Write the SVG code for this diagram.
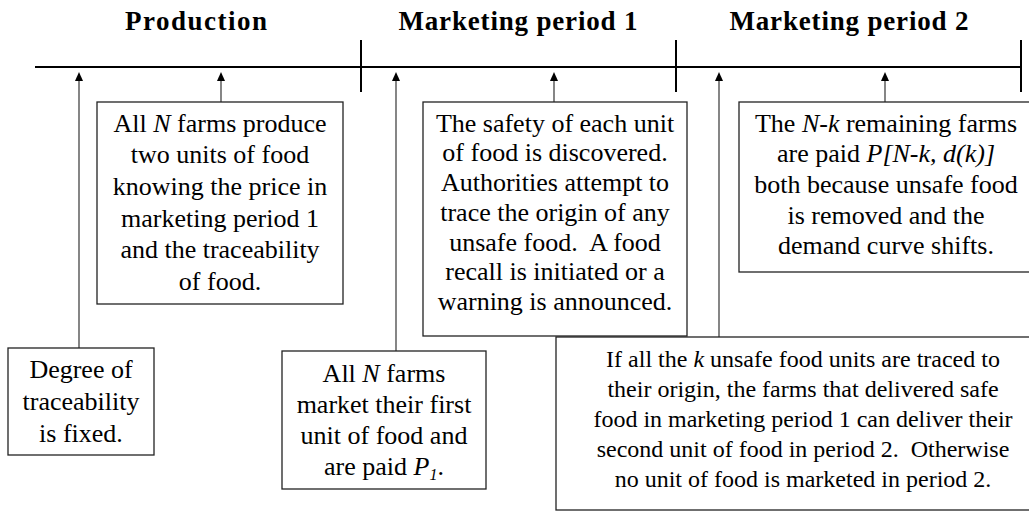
<svg xmlns="http://www.w3.org/2000/svg" width="1029" height="519" viewBox="0 0 1029 519">
<style>
.t{font-size:26px;fill:#000;text-anchor:middle}
.s{font-size:24px}
.h{font-size:27px;font-weight:bold;fill:#000;text-anchor:middle}
.i{font-style:italic}
.box{fill:#fff;stroke:#222;stroke-width:1.3}
.tl{stroke:#000;stroke-width:2;fill:none}
.ar{stroke:#444;stroke-width:1.3;fill:none;marker-end:url(#ah)}
</style>
<defs>
<marker id="ah" markerUnits="userSpaceOnUse" markerWidth="10" markerHeight="10" refX="4" refY="0" orient="auto" viewBox="-1 -5 10 10" overflow="visible">
<path d="M0,-4 L9,0 L0,4 Z" fill="#000"/>
</marker>
</defs>
<g id="titles" font-family="Liberation Serif, DejaVu Serif, serif">
<text class="h" x="196" y="30" textLength="142">Production</text>
<text class="h" x="518" y="30" textLength="239">Marketing period 1</text>
<text class="h" x="849" y="30" textLength="239">Marketing period 2</text>
</g>
<g id="timeline">
<line class="tl" x1="35" y1="67" x2="1021" y2="67"/>
<line class="tl" x1="361" y1="40" x2="361" y2="92"/>
<line class="tl" x1="676" y1="40" x2="676" y2="92"/>
<line class="tl" x1="1021" y1="40" x2="1021" y2="92"/>
</g>
<g id="connectors">
<line class="ar" x1="79" y1="348" x2="79" y2="77"/>
<line class="ar" x1="221" y1="102" x2="221" y2="77"/>
<line class="ar" x1="396" y1="351" x2="396" y2="77"/>
<line class="ar" x1="554" y1="102" x2="554" y2="77"/>
<line class="ar" x1="719" y1="337" x2="719" y2="77"/>
<line class="ar" x1="885" y1="102" x2="885" y2="77"/>
</g>
<g id="n-produce" font-family="Liberation Serif">
<rect class="box" x="97" y="102" width="246" height="202"/>
<text class="t" x="220" y="131.7"><tspan>All </tspan><tspan class="i">N</tspan><tspan> farms produce</tspan></text>
<text class="t" x="220" y="163.3">two units of food</text>
<text class="t" x="220" y="195">knowing the price in</text>
<text class="t" x="220" y="226.7">marketing period 1</text>
<text class="t" x="220" y="258.3">and the traceability</text>
<text class="t" x="220" y="290">of food.</text>
</g>
<g id="n-safety" font-family="Times New Roman">
<rect class="box" x="423" y="102" width="264" height="234"/>
<text class="t" x="555" y="131.7">The safety of each unit</text>
<text class="t" x="555" y="161.4">of food is discovered.</text>
<text class="t" x="555" y="191.1">Authorities attempt to</text>
<text class="t" x="555" y="220.8">trace the origin of any</text>
<text class="t" x="555" y="250.5" xml:space="preserve">unsafe food.  A food</text>
<text class="t" x="555" y="280.2">recall is initiated or a</text>
<text class="t" x="555" y="310">warning is announced.</text>
</g>
<g id="n-remaining" font-family="Liberation Serif">
<rect class="box" x="739" y="102" width="295" height="170"/>
<text class="t" x="886" y="131.7"><tspan>The </tspan><tspan class="i">N-k</tspan><tspan> remaining farms</tspan></text>
<text class="t" x="886" y="162.3"><tspan>are paid </tspan><tspan class="i">P[N-k, d(k)]</tspan></text>
<text class="t" x="886" y="192.9">both because unsafe food</text>
<text class="t" x="886" y="223.5">is removed and the</text>
<text class="t" x="886" y="254">demand curve shifts.</text>
</g>
<g id="n-degree" font-family="Times New Roman">
<rect class="box" x="8" y="348" width="146" height="107"/>
<text class="t" x="81" y="378">Degree of</text>
<text class="t" x="81" y="410">traceability</text>
<text class="t" x="81" y="441.7">is fixed.</text>
</g>
<g id="n-market" font-family="serif">
<rect class="box" x="282" y="351" width="204" height="138"/>
<text class="t" x="384" y="381.7"><tspan>All </tspan><tspan class="i">N</tspan><tspan> farms</tspan></text>
<text class="t" x="384" y="412.7">market their first</text>
<text class="t" x="384" y="443.7">unit of food and</text>
<text class="t" x="384" y="474.7"><tspan>are paid </tspan><tspan class="i">P</tspan><tspan class="i" font-size="16" dy="5">1</tspan><tspan dy="-5">.</tspan></text>
</g>
<g id="n-traced" font-family="Liberation Serif">
<rect class="box" x="556" y="337" width="494" height="173"/>
<text class="t s" x="803" y="366.7"><tspan>If all the </tspan><tspan class="i">k</tspan><tspan> unsafe food units are traced to</tspan></text>
<text class="t s" x="803" y="396.7">their origin, the farms that delivered safe</text>
<text class="t s" x="803" y="426.7">food in marketing period 1 can deliver their</text>
<text class="t s" x="803" y="456.7" xml:space="preserve">second unit of food in period 2.  Otherwise</text>
<text class="t s" x="803" y="486.7">no unit of food is marketed in period 2.</text>
</g>
</svg>
